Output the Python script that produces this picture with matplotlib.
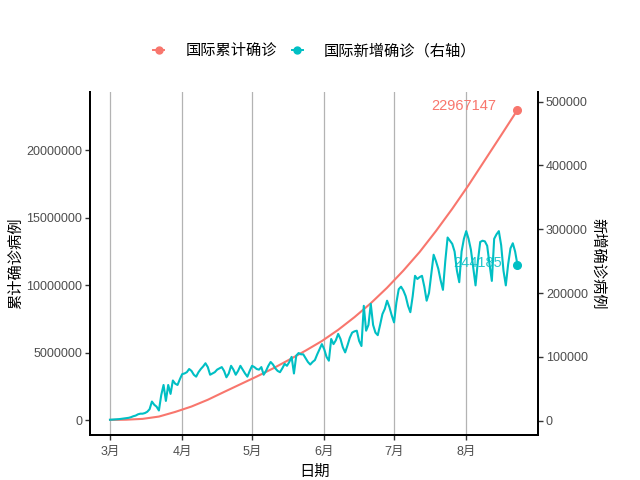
import numpy as np
import pandas as pd
import matplotlib
matplotlib.use( 'Agg' )
import matplotlib.pyplot as plt
from matplotlib.lines import Line2D
from matplotlib.legend_handler import HandlerTuple

plt.rcParams['font.family'] = ['Liberation Sans', 'Noto Sans CJK SC', 'DejaVu Sans']

RED = '#F8766D'
CYAN = '#00BFC4'

START = '2020-03-01'

# daily new cases (thousands), Mar 1 - Aug 23
new_mar = [1.5, 1.8, 2.0, 2.2, 2.5, 3.0, 3.5, 4.0, 4.5, 5.5, 7, 8, 10, 11, 11, 12,
           14, 18, 30, 25, 22, 16, 40, 56, 31, 56, 42, 63, 58, 56, 65]
new_apr = [73, 74, 76, 81, 78, 72, 69, 76, 81, 85, 90, 84, 72, 74, 76, 80, 82, 84,
           78, 68, 74, 86, 80, 72, 78, 86, 80, 74, 69, 78]
new_may = [86, 84, 81, 80, 84, 72, 78, 86, 92, 88, 82, 78, 76, 82, 89, 86, 92, 100,
           74, 102, 106, 104, 104, 98, 92, 88, 92, 95, 104, 112, 120]
new_jun = [112, 100, 94, 128, 120, 126, 136, 128, 115, 107, 118, 130, 138, 140, 141,
           125, 117, 180, 141, 150, 183, 150, 138, 134, 150, 167, 175, 188, 178, 165]
new_jul = [154, 185, 206, 210, 204, 195, 180, 170, 195, 227, 222, 225, 227, 210, 188,
           200, 230, 260, 250, 238, 220, 205, 250, 287, 282, 277, 265, 235, 217, 265, 285]
new_aug = [297, 285, 268, 240, 212, 250, 280, 282, 281, 274, 245, 219, 285, 292, 297,
           275, 235, 212, 245, 270, 278, 265, 244.185]

# cumulative confirmed, read every 7 days from Mar 1
cum_values = [7000, 25000, 85000, 255000, 600000, 1000000, 1500000, 2080000,
              2650000, 3220000, 3820000, 4470000, 5140000, 5850000, 6680000,
              7620000, 8650000, 9800000, 11070000, 12450000, 14000000, 15650000,
              17400000, 19250000, 21100000, 22967147]

month_ticks = ['2020-03-01', '2020-04-01', '2020-05-01', '2020-06-01', '2020-07-01', '2020-08-01']
month_labels = ['3月', '4月', '5月', '6月', '7月', '8月']

new_cases = np.array( new_mar + new_apr + new_may + new_jun + new_jul + new_aug ) * 1000
new_dates = pd.date_range( START, periods=len( new_cases ), freq='D' )
cum_dates = pd.date_range( START, periods=len( cum_values ), freq='7D' )

fig = plt.figure( figsize=(6.4, 4.8), dpi=100 )
ax = fig.add_axes( [0.1406, 0.09375, 0.7003, 0.7146] )
ax2 = ax.twinx()

ax.plot( cum_dates, cum_values, color=RED, lw=1.5 )
ax.plot( cum_dates[-1], cum_values[-1], 'o', color=RED, ms=5.5 )
ax.annotate( f'{cum_values[-1]}', ( cum_dates[-1], cum_values[-1] ), xytext=( -15, 3 ),
             textcoords='offset points', ha='right', va='center', color=RED, fontsize=10.5 )

ax2.plot( new_dates, new_cases, color=CYAN, lw=1.5 )
ax2.plot( new_dates[-1], new_cases[-1], 'o', color=CYAN, ms=5.5 )
ax2.annotate( f'{int( new_cases[-1] )}', ( new_dates[-1], new_cases[-1] ), xytext=( -11, 1.5 ),
              textcoords='offset points', ha='right', va='center', color=CYAN, fontsize=10.5,
              alpha=0.85 )

t0 = pd.Timestamp( START )
ax.set_xlim( t0 - pd.Timedelta( days=8.6 ), t0 + pd.Timedelta( days=183.9 ) )
ax.set_ylim( -1.11e6, 24.3e6 )
ax2.set_ylim( -22400, 515000 )

ax.set_xticks( pd.to_datetime( month_ticks ) )
ax.set_xticklabels( month_labels )
ax.set_yticks( [0, 5000000, 10000000, 15000000, 20000000] )
ax.set_yticklabels( ['0', '5000000', '10000000', '15000000', '20000000'] )
ax2.set_yticks( [0, 100000, 200000, 300000, 400000, 500000] )
ax2.set_yticklabels( ['0', '100000', '200000', '300000', '400000', '500000'] )

ax.grid( axis='x', color='#B3B3B3', lw=0.9 )
ax.set_axisbelow( True )

for a in ( ax, ax2 ):
    a.spines['top'].set_visible( False )
    for s in ( 'left', 'right', 'bottom' ):
        a.spines[s].set_linewidth( 1.4 )
        a.spines[s].set_color( 'black' )
    a.tick_params( length=3.6, width=1.0, color='#333333', labelcolor='#4D4D4D',
                   labelsize=9, pad=2 )
ax.tick_params( axis='x', pad=4.5 )

ax.set_xlabel( '日期', fontsize=11, labelpad=5 )
ax.set_ylabel( '累计确诊病例', fontsize=11, labelpad=2 )
ax2.set_ylabel( '新增确诊病例', fontsize=11, rotation=-90, labelpad=12 )

def key( color ):
    line = Line2D( [], [], color=color, lw=1.4, marker='o', ms=5 )
    letter = Line2D( [], [], color='white', lw=0, marker='$a$', ms=4.5, alpha=0.7 )
    return ( line, letter )

fig.legend( [key( RED ), key( CYAN )], ['国际累计确诊', '国际新增确诊（右轴）'],
            handler_map={tuple: HandlerTuple( ndivide=None, pad=0 )},
            loc='center', bbox_to_anchor=( 0.492, 0.894 ), ncol=2, frameon=False,
            fontsize=11, handlelength=1.4, handletextpad=0.7, columnspacing=1.0 )

fig.savefig( 'out.png', dpi=100 )
